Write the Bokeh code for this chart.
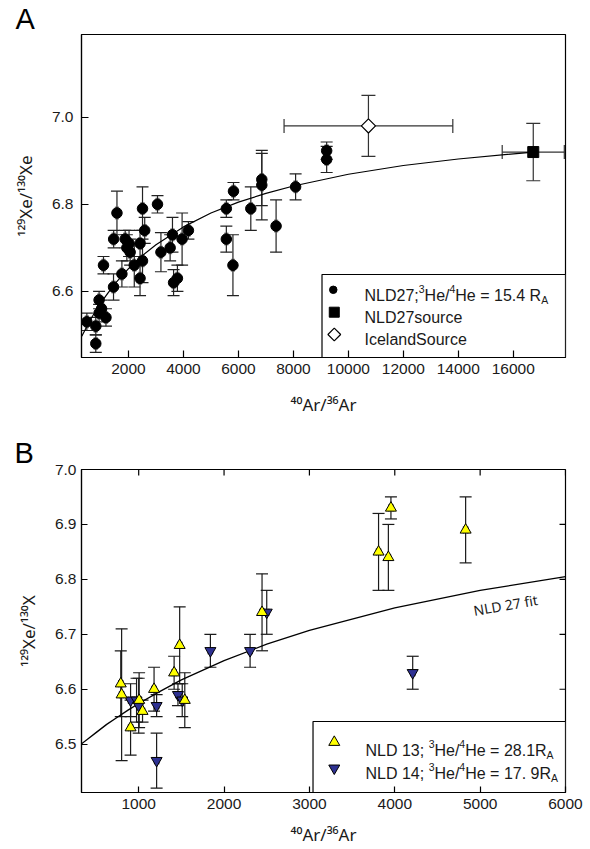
import math
from bokeh.plotting import figure
from bokeh.layouts import column
from bokeh.models import (ColumnDataSource, Whisker, TeeHead, Label, FixedTicker,
                          PrintfTickFormatter, Range1d)
from bokeh.embed import file_html
from bokeh.resources import INLINE

# ---------------- data: panel A ----------------
nld27_ar = [485, 810, 810, 930, 930, 1020, 1180, 1090, 1455, 1580, 1460, 1760, 1880, 1940,
            2020, 2060, 2210, 2420, 2420, 2510, 2510, 2590, 3055, 3180, 3515, 3600, 3640,
            3780, 3950, 4180, 5560, 5560, 5820, 5800, 6450, 6850, 6850, 7370, 8080, 9210, 9210]
nld27_xe = [6.53, 6.52, 6.48, 6.58, 6.55, 6.56, 6.54, 6.66, 6.61, 6.78, 6.72, 6.64, 6.72, 6.70,
            6.71, 6.69, 6.66, 6.71, 6.63, 6.67, 6.79, 6.74, 6.80, 6.69, 6.70, 6.73, 6.62,
            6.63, 6.72, 6.74, 6.79, 6.72, 6.83, 6.66, 6.79, 6.857, 6.844, 6.75, 6.84, 6.923, 6.903]
nld27_err = [0.02, 0.02, 0.02, 0.02, 0.02, 0.02, 0.02, 0.02, 0.03, 0.05, 0.02, 0.03, 0.02, 0.03,
             0.03, 0.03, 0.05, 0.03, 0.04, 0.05, 0.05, 0.03, 0.02, 0.045, 0.03, 0.04, 0.03,
             0.03, 0.06, 0.02, 0.02, 0.03, 0.02, 0.07, 0.05, 0.06, 0.08, 0.06, 0.03, 0.02, 0.03]
nld27_ar_err = 40

src27_ar = [16727]
src27_xe = [6.92]
src27_ar_err = [1130]
src27_xe_err = [0.066]

ice_ar = [10730]
ice_xe = [6.98]
ice_ar_err = [3070]
ice_xe_err = [0.07]

# NLD27 fit curve
fit_ar = [300, 400, 500, 625, 750, 875, 1000, 1250, 1500, 2000, 2500, 3000, 4000, 5000,
          6000, 7000, 8000, 10000, 12000, 14000, 16727]
fit_xe = [6.497, 6.509, 6.521, 6.536, 6.549, 6.562, 6.574, 6.596, 6.617, 6.652, 6.682, 6.707,
          6.748, 6.780, 6.805, 6.825, 6.842, 6.869, 6.889, 6.904, 6.920]

# ---------------- data: panel B ----------------
nld13_ar = [790, 800, 905, 1005, 1045, 1180, 1415, 1480, 1540, 2445, 3810, 3925, 3955, 4830]
nld13_xe = [6.61, 6.59, 6.53, 6.58, 6.56, 6.60, 6.63, 6.68, 6.58, 6.74, 6.85, 6.84, 6.93, 6.89]
nld13_err = [0.06, 0.12, 0.05, 0.05, 0.02, 0.04, 0.03, 0.07, 0.05, 0.07, 0.07, 0.06, 0.02, 0.06]

nld14_ar = [905, 975, 1000, 1210, 1210, 1460, 1510, 1840, 2305, 2500, 4210]
nld14_xe = [6.58, 6.58, 6.57, 6.57, 6.47, 6.59, 6.58, 6.67, 6.67, 6.74, 6.63]
nld14_err = [0.03, 0.04, 0.05, 0.02, 0.05, 0.02, 0.03, 0.03, 0.03, 0.04, 0.03]
nld_b_ar_err = 25

xticks_A = [2000, 4000, 6000, 8000, 10000, 12000, 14000, 16000]
yticks_A = [6.6, 6.8, 7.0]
xticks_B = [1000, 2000, 3000, 4000, 5000, 6000]
yticks_B = [6.5, 6.6, 6.7, 6.8, 6.9, 7.0]

xlabel = "⁴⁰Ar/³⁶Ar"
ylabel_A = "¹²⁹Xe/¹³⁰Xe"
ylabel_B = "¹²⁹Xe/¹³⁰X"

FONT = "Liberation Sans"
LABEL_FONT = "Noto Sans"
YELLOW = "#ffff00"
BLUE = "#2e3192"

# Arial / Liberation Sans advance widths (per 1000 em)
WID = {' ': 278, '/': 278, ';': 278, '.': 278, '=': 584, 'A': 667, 'B': 667, 'C': 722,
       'D': 722, 'E': 667, 'H': 722, 'I': 278, 'L': 556, 'N': 722, 'R': 722, 'S': 667,
       'X': 667, 'a': 556, 'c': 500, 'd': 556, 'e': 556, 'f': 278, 'i': 222, 'l': 222,
       'n': 556, 'o': 556, 'r': 333, 's': 500, 't': 278, 'u': 556, 'x': 500}


def tw(s, size):
    return sum(WID.get(c, 556) for c in s) * size / 1000.0


def make_conv(fl, fr, ft, fb, xr, yr):
    def conv(px, py):
        x = xr[0] + (px - fl) / (fr - fl) * (xr[1] - xr[0])
        y = yr[0] + (fb - py) / (fb - ft) * (yr[1] - yr[0])
        return x, y
    return conv


def rich(p, frame, px, py, parts, angle=0.0, color="#1a1a1a", font=FONT):
    """Text made of runs (text, size, rise); positions in canvas px, drawn in screen units."""
    fl, fr, ft, fb = frame
    ca, sa = math.cos(angle), math.sin(angle)
    adv = 0.0
    for text, size, rise in parts:
        x = px + adv * ca - rise * sa
        y = py - adv * sa - rise * ca
        p.add_layout(Label(x=x - fl, y=fb - y, x_units="screen", y_units="screen",
                           text=text, text_font=font,
                           text_font_size=f"{size}px", text_color=color, angle=angle,
                           text_align="left", text_baseline="alphabetic"))
        adv += tw(text, size)


def style_axis(ax, tick_in, standoff, label, label_standoff):
    ax.major_tick_in = tick_in
    ax.major_tick_out = 0
    ax.minor_tick_line_color = None
    ax.axis_line_width = 1.2
    ax.axis_line_color = "black"
    ax.major_tick_line_width = 1.2
    ax.major_tick_line_color = "black"
    ax.major_label_text_font = FONT
    ax.major_label_text_color = "#1a1a1a"
    ax.major_label_standoff = standoff
    ax.major_label_text_font_size = "15.5px"
    ax.axis_label = label
    ax.axis_label_text_font = LABEL_FONT
    ax.axis_label_text_font_size = "17px"
    ax.axis_label_text_font_style = "normal"
    ax.axis_label_text_color = "#1a1a1a"
    ax.axis_label_standoff = label_standoff


def vwhisk(p, src, color, head, width=1.2):
    p.add_layout(Whisker(source=src, base="x", lower="lo", upper="hi", dimension="height",
                         line_color=color, line_width=width,
                         upper_head=TeeHead(size=head, line_color=color, line_width=width),
                         lower_head=TeeHead(size=head, line_color=color, line_width=width)))


def hwhisk(p, src, color, head, width=1.2):
    p.add_layout(Whisker(source=src, base="y", lower="xl", upper="xh", dimension="width",
                         line_color=color, line_width=width,
                         upper_head=TeeHead(size=head, line_color=color, line_width=width),
                         lower_head=TeeHead(size=head, line_color=color, line_width=width)))


def err_src(xs, ys, ye, xe):
    xe_l = xe if isinstance(xe, list) else [xe] * len(xs)
    return ColumnDataSource(dict(x=xs, y=ys,
                                 lo=[y - e for y, e in zip(ys, ye)],
                                 hi=[y + e for y, e in zip(ys, ye)],
                                 xl=[x - e for x, e in zip(xs, xe_l)],
                                 xh=[x + e for x, e in zip(xs, xe_l)]))


def new_fig(W, H, frame, xr, yr, letter, letter_x, letter_standoff):
    fl, fr, ft, fb = frame
    p = figure(width=W, height=H, x_range=Range1d(*xr), y_range=Range1d(*yr),
               output_backend="svg", toolbar_location=None,
               min_border_left=fl, min_border_right=W - fr,
               min_border_top=ft, min_border_bottom=H - fb)
    p.xgrid.visible = False
    p.ygrid.visible = False
    p.outline_line_color = "black"
    p.outline_line_width = 1.2
    p.background_fill_color = "white"
    p.border_fill_color = "white"
    p.title.text = letter
    p.title.text_font = FONT
    p.title.text_font_size = "29px"
    p.title.text_font_style = "normal"
    p.title.text_color = "black"
    p.title.align = "left"
    p.title.offset = letter_x - fl
    p.title.standoff = letter_standoff
    return p


# ======================= Panel A =======================
xrA = (290, 17900)
yrA = (6.448, 7.19)
fA = (81, 566, 34, 357)  # frame in canvas px: left, right, top, bottom
WA, HA = 590, 430
pA = new_fig(WA, HA, fA, xrA, yrA, "A", 15, 0)
pA.xaxis.ticker = FixedTicker(ticks=xticks_A)
pA.yaxis.ticker = FixedTicker(ticks=yticks_A)
pA.xaxis.formatter = PrintfTickFormatter(format="%d")
pA.yaxis.formatter = PrintfTickFormatter(format="%.1f")
style_axis(pA.xaxis[0], 7, 6, xlabel, 16)
style_axis(pA.yaxis[0], 7, 8, ylabel_A, 12)
convA = make_conv(*fA, xrA, yrA)

sA = err_src(nld27_ar, nld27_xe, nld27_err, nld27_ar_err)
hwhisk(pA, sA, "#8c8c8c", 13, 2.0)
vwhisk(pA, sA, "#222222", 12, 1.2)
sSrc = err_src(src27_ar, src27_xe, src27_xe_err, src27_ar_err)
sIce = err_src(ice_ar, ice_xe, ice_xe_err, ice_ar_err)
for s in (sSrc, sIce):
    hwhisk(pA, s, "#333333", 14, 1.2)
    vwhisk(pA, s, "#333333", 14, 1.2)

pA.line(fit_ar, fit_xe, line_color="black", line_width=1.2)
pA.scatter(nld27_ar, nld27_xe, marker="circle", size=10.5, fill_color="black", line_color="black")
pA.scatter(ice_ar, ice_xe, marker="square", angle=math.pi / 4, size=10, fill_color="white",
           line_color="black", line_width=1.2)
pA.scatter(src27_ar, src27_xe, marker="square", size=11, fill_color="black", line_color="black")

# legend A
lx0, ly0 = convA(322, 357)
lx1, ly1 = convA(566, 274)
pA.quad(left=[lx0], right=[lx1], bottom=[ly0], top=[ly1], fill_color="white",
        line_color="black", line_width=1.2)
mx, my = convA(333.3, 289.3)
pA.scatter([mx], [my], marker="circle", size=7.5, fill_color="black", line_color="black")
mx, my = convA(334.3, 311.7)
pA.scatter([mx], [my], marker="square", size=10, fill_color="black", line_color="black")
mx, my = convA(334.3, 334)
pA.scatter([mx], [my], marker="square", angle=math.pi / 4, size=9, fill_color="white",
           line_color="black", line_width=1.2)
rich(pA, fA, 364, 295, [("NLD27;", 16, 0), ("3", 10.5, 6.7), ("He/", 16, 0),
                        ("4", 10.5, 6.7), ("He = 15.4 R", 16, 0), ("A", 10.5, -4.3)])
rich(pA, fA, 364, 317, [("NLD27source", 16, 0)])
rich(pA, fA, 364, 339, [("IcelandSource", 16, 0)])

# ======================= Panel B =======================
B_top = HA
xrB = (330, 6000)
yrB = (6.412, 7.0)
WB, HB = 590, 419
fB = (80, 565, 469 - B_top, 792 - B_top)  # canvas px
pB = new_fig(WB, HB, fB, xrB, yrB, "B", 13, 2)
pB.xaxis.ticker = FixedTicker(ticks=xticks_B)
pB.yaxis.ticker = FixedTicker(ticks=yticks_B)
pB.xaxis.formatter = PrintfTickFormatter(format="%d")
pB.yaxis.formatter = PrintfTickFormatter(format="%.1f")
style_axis(pB.xaxis[0], 6, 6, xlabel, 11)
style_axis(pB.yaxis[0], 6, 5, ylabel_B, 12)
convB = make_conv(*fB, xrB, yrB)

# mirror ticks on the top and right edges (6 px, pointing inward)
tick_dy = 6 * (yrB[1] - yrB[0]) / (fB[3] - fB[2])
tick_dx = 6 * (xrB[1] - xrB[0]) / (fB[1] - fB[0])
pB.segment(x0=xticks_B, x1=xticks_B, y0=[yrB[1]] * len(xticks_B),
           y1=[yrB[1] - tick_dy] * len(xticks_B), line_color="black", line_width=1.2)
pB.segment(x0=[xrB[1]] * len(yticks_B), x1=[xrB[1] - tick_dx] * len(yticks_B),
           y0=yticks_B, y1=yticks_B, line_color="black", line_width=1.2)

s13 = err_src(nld13_ar, nld13_xe, nld13_err, nld_b_ar_err)
s14 = err_src(nld14_ar, nld14_xe, nld14_err, nld_b_ar_err)
for s in (s13, s14):
    hwhisk(pB, s, "#1a1a1a", 7, 1.2)
    vwhisk(pB, s, "#1a1a1a", 12, 1.2)

pB.line(fit_ar, fit_xe, line_color="black", line_width=1.3)
pB.scatter(nld14_ar, nld14_xe, marker="inverted_triangle", size=11, fill_color=BLUE,
           line_color="black", line_width=1)
pB.scatter(nld13_ar, nld13_xe, marker="triangle", size=11, fill_color=YELLOW,
           line_color="black", line_width=1)

# legend B
lx0, ly0 = convB(312, 792 - B_top)
lx1, ly1 = convB(565, 721 - B_top)
pB.quad(left=[lx0], right=[lx1], bottom=[ly0], top=[ly1], fill_color="white",
        line_color="black", line_width=1.2)
mx, my = convB(333.3, 741.7 - B_top)
pB.scatter([mx], [my], marker="triangle", size=11, fill_color=YELLOW, line_color="black")
mx, my = convB(333.3, 767.7 - B_top)
pB.scatter([mx], [my], marker="inverted_triangle", size=11, fill_color=BLUE, line_color="black")
rich(pB, fB, 364, 750 - B_top, [("NLD 13; ", 16, 0), ("3", 10.5, 6.7), ("He/", 16, 0),
                                ("4", 10.5, 6.7), ("He = 28.1R", 16, 0), ("A", 10.5, -4.3)])
rich(pB, fB, 364, 773 - B_top, [("NLD 14; ", 16, 0), ("3", 10.5, 6.7), ("He/", 16, 0),
                                ("4", 10.5, 6.7), ("He = 17. 9R", 16, 0), ("A", 10.5, -4.3)])

rich(pB, fB, 472, 610 - B_top, [("NLD 27 fit", 14, 0)], angle=0.17, font="Noto Sans")

layout = column(pA, pB, spacing=0)
open("out.html", "w").write(file_html(layout, INLINE))
